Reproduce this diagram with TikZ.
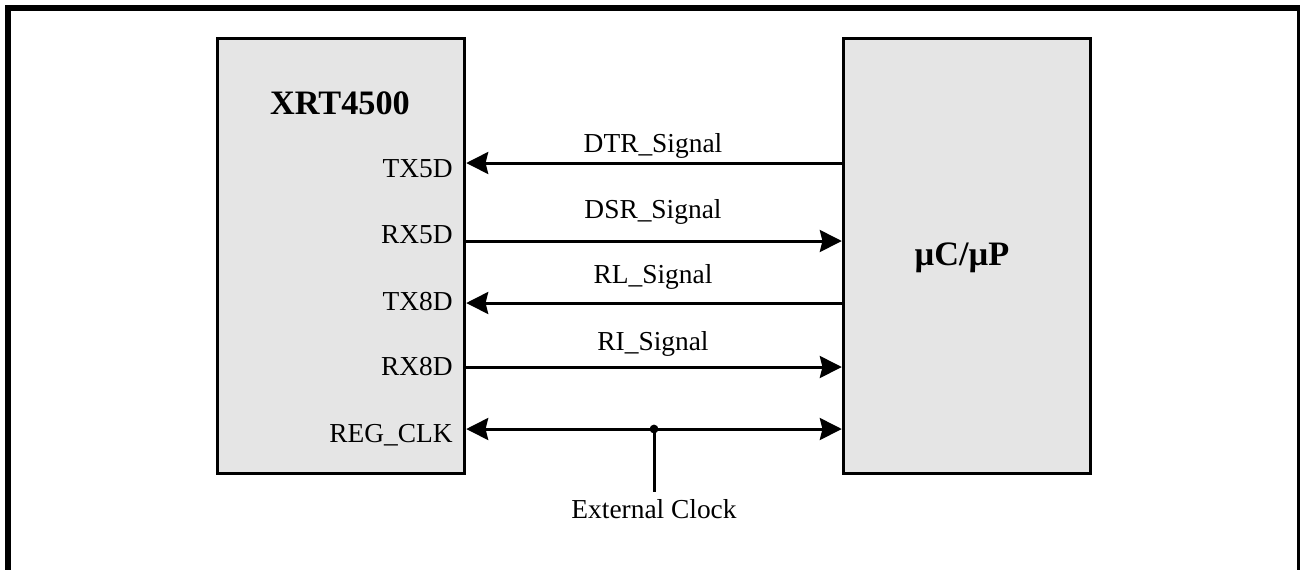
\documentclass[tikz,border=0pt]{standalone}
\usepackage{fontspec}
\setmainfont{Liberation Serif}
\usetikzlibrary{arrows.meta}

\tikzset{
  chip/.style={draw, fill=gray!20, line width=1.7pt, minimum width=4.95cm,
               minimum height=8.72cm, inner sep=0pt},
  chipname/.style={inner sep=0pt, anchor=base, font=\fontsize{19.5}{22}\selectfont\bfseries},
  pinlabel/.style={inner sep=0pt, anchor=base east, font=\fontsize{15.6}{18}\selectfont},
  siglabel/.style={inner sep=0pt, anchor=base, font=\fontsize{15.6}{18}\selectfont},
  sigline/.style={line width=1.7pt, -{Stealth[length=12.5pt, width=12.5pt, inset=1.5pt]}},
  bothline/.style={line width=1.7pt, {Stealth[length=12.5pt, width=12.5pt, inset=1.5pt]}-{Stealth[length=12.5pt, width=12.5pt, inset=1.5pt]}}
}

\begin{document}
\begin{tikzpicture}[x=0.02cm, y=-0.02cm]
  \useasboundingbox (0,0) rectangle (1300,569);
  % outer frame, open at the bottom
  \draw[line width=3.4pt] (8,600) -- (8,8) -- (1299.5,8) -- (1299.5,600);

  % the two blocks
  \node[chip] (xrt) at (341,256) {};
  \node[chip] (mcu) at (967,256) {};
  \node[chipname] (xrtname) at (340,114) {XRT4500};
  \node[chipname] (mcuname) at (962,265) {µC/µP};

  % pins on the XRT4500
  \node[pinlabel] (tx5d) at (453,177) {TX5D};
  \node[pinlabel] (rx5d) at (453,243) {RX5D};
  \node[pinlabel] (tx8d) at (453,310) {TX8D};
  \node[pinlabel] (rx8d) at (453,375) {RX8D};
  \node[pinlabel] (regclk) at (453,442) {REG\_CLK};

  % ends of the signal lines
  \coordinate (xa) at (xrt.east |- 0,163);
  \coordinate (xb) at (xrt.east |- 0,241);
  \coordinate (xc) at (xrt.east |- 0,303);
  \coordinate (xd) at (xrt.east |- 0,367);
  \coordinate (xe) at (xrt.east |- 0,429);
  \coordinate (ma) at (mcu.west |- xa);
  \coordinate (mb) at (mcu.west |- xb);
  \coordinate (mc) at (mcu.west |- xc);
  \coordinate (md) at (mcu.west |- xd);
  \coordinate (me) at (mcu.west |- xe);

  \draw[sigline] (ma) -- (xa);
  \draw[sigline] (xb) -- (mb);
  \draw[sigline] (mc) -- (xc);
  \draw[sigline] (xd) -- (md);
  \draw[bothline] (xe) -- (me);

  \node[siglabel] (dtr) at (653,152) {DTR\_Signal};
  \node[siglabel] (dsr) at (653,218) {DSR\_Signal};
  \node[siglabel] (rl) at (653,283) {RL\_Signal};
  \node[siglabel] (ri) at (653,350) {RI\_Signal};

  % external clock tap
  \coordinate (tap) at (654,429);
  \node[siglabel] (extclk) at (654,518) {External Clock};
  \fill (tap) circle (2.5pt);
  \draw[line width=1.7pt] (tap) -- (654,492);
\end{tikzpicture}
\end{document}
